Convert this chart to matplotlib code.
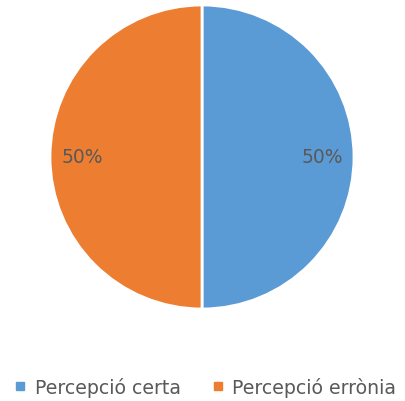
import matplotlib.pyplot as plt
from matplotlib.lines import Line2D

labels = ["Percepció certa", "Percepció errònia"]
values = [50, 50]
colors = ["#5B9BD5", "#ED7D31"]

fig = plt.figure(figsize=(4.05, 4.02), dpi=100)
ax = fig.add_axes([50 / 405, 1 - 311 / 402, 304 / 405, 306 / 402])

wedges, texts, autotexts = ax.pie(
    values, colors=colors, startangle=90, counterclock=False,
    autopct="%1.0f%%", pctdistance=0.79, radius=1,
    wedgeprops=dict(edgecolor="white", linewidth=2),
    textprops=dict(color="#595959", fontsize=13.5),
)
ax.set_xlim(-1, 1)
ax.set_ylim(-1, 1)
ax.set_aspect("equal")

handles = [Line2D([], [], marker="s", linestyle="none", markersize=6,
                  markerfacecolor=c, markeredgecolor=c) for c in colors]
fig.legend(handles, labels, loc="center", bbox_to_anchor=(0.503, 1 - 388 / 402),
           ncol=2, frameon=False, fontsize=13.6, handletextpad=0.25,
           handlelength=1.0, columnspacing=1.5, labelcolor="#595959",
           borderpad=0, borderaxespad=0)

fig.savefig("out.png", dpi=100)
